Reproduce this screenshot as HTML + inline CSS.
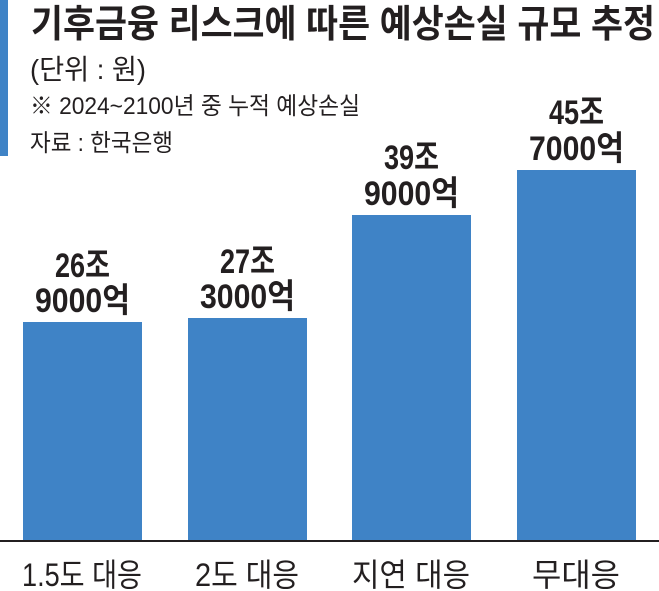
<!DOCTYPE html>
<html><head><meta charset="utf-8"><style>
body{margin:0;background:#fff}
svg{display:block}
text{font-family:"Liberation Sans","Noto Sans CJK KR",sans-serif}
</style></head><body>
<svg width="659" height="591" viewBox="0 0 659 591">
<rect x="0" y="0" width="8" height="156" fill="#3f83c6"/>
<text x="31" y="37" font-size="38" font-weight="bold" fill="#231f20" textLength="624" lengthAdjust="spacingAndGlyphs">기후금융 리스크에 따른 예상손실 규모 추정</text>
<text x="30" y="79" font-size="28" fill="#231f20" textLength="116" lengthAdjust="spacingAndGlyphs">(단위 : 원)</text>
<text x="30" y="114" font-size="24" fill="#231f20" textLength="330" lengthAdjust="spacingAndGlyphs">※ 2024~2100년 중 누적 예상손실</text>
<text x="30" y="151" font-size="24" fill="#231f20" textLength="143" lengthAdjust="spacingAndGlyphs">자료 : 한국은행</text>
<g fill="#3f83c6">
<rect x="23" y="322" width="119" height="218"/>
<rect x="188" y="318" width="119" height="222"/>
<rect x="352" y="215" width="119" height="325"/>
<rect x="517" y="170" width="119" height="370"/>
</g>
<rect x="0" y="540" width="659" height="2" fill="#231f20"/>
<g font-size="34" font-weight="bold" fill="#231f20">
<text x="55" y="277" textLength="55" lengthAdjust="spacingAndGlyphs">26조</text><text x="35" y="312" textLength="95" lengthAdjust="spacingAndGlyphs">9000억</text>
<text x="220" y="273" textLength="55" lengthAdjust="spacingAndGlyphs">27조</text><text x="200" y="308" textLength="95" lengthAdjust="spacingAndGlyphs">3000억</text>
<text x="384" y="169" textLength="55" lengthAdjust="spacingAndGlyphs">39조</text><text x="364" y="205" textLength="95" lengthAdjust="spacingAndGlyphs">9000억</text>
<text x="549" y="124" textLength="55" lengthAdjust="spacingAndGlyphs">45조</text><text x="529" y="160" textLength="95" lengthAdjust="spacingAndGlyphs">7000억</text>
</g>
<g font-size="32" fill="#231f20">
<text x="22" y="586" textLength="120" lengthAdjust="spacingAndGlyphs">1.5도 대응</text>
<text x="195" y="586" textLength="104" lengthAdjust="spacingAndGlyphs">2도 대응</text>
<text x="352" y="586" textLength="118" lengthAdjust="spacingAndGlyphs">지연 대응</text>
<text x="532" y="586" textLength="88" lengthAdjust="spacingAndGlyphs">무대응</text>
</g>
</svg>
</body></html>
